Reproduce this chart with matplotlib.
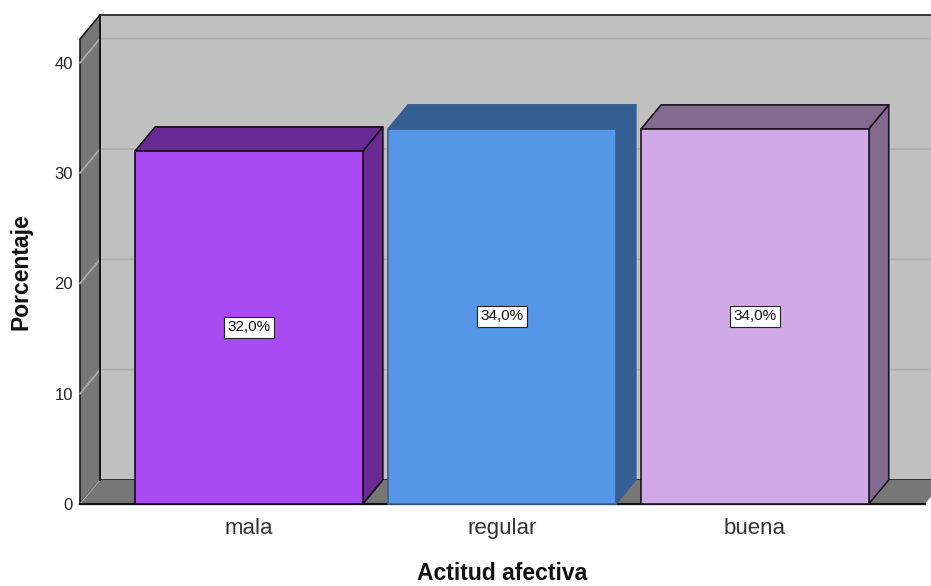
import matplotlib
matplotlib.use("Agg")
import matplotlib.pyplot as plt
from matplotlib.patches import Polygon

plt.rcParams['font.family'] = ['Liberation Sans', 'DejaVu Sans']

categories = ["mala", "regular", "buena"]
values = [32.0, 34.0, 34.0]
labels = ["32,0%", "34,0%", "34,0%"]
front_colors = ["#a94bf2", "#5596e6", "#d0aae6"]
dark_colors = ["#6a2a93", "#355f92", "#826b8e"]
edge_colors = ["#14081c", "#355f92", "#1c1420"]
y_ticks = [0, 10, 20, 30, 40]

bar_width = 0.9
y_top = 42.15
x_left, x_right = -0.668, 2.696
floor_right = 2.672
# offset of the back plane from the front plane, in data units
dx, dy = 0.079, 2.18

fig = plt.figure(figsize=(9.31, 5.86), dpi=100)
ax = fig.add_axes([80/931, (586-504)/586, (931-80)/931, (504-39)/586])
ax.set_xlim(x_left, x_right)
ax.set_ylim(0, y_top)


def poly(points, color, edge="none", lw=1.2, z=1):
    ax.add_patch(Polygon(points, closed=True, facecolor=color, edgecolor=edge,
                         linewidth=lw, clip_on=False, zorder=z, joinstyle="round"))


# back wall, side wall and floor
poly([(x_left+dx, dy), (floor_right+dx, dy), (floor_right+dx, y_top+dy), (x_left+dx, y_top+dy)], "#c0c0c0", "#1a1a1a")
poly([(x_left, 0), (x_left+dx, dy), (x_left+dx, y_top+dy), (x_left, y_top)], "#777777", "#1a1a1a")
poly([(x_left, 0), (floor_right, 0), (floor_right+dx, dy), (x_left+dx, dy)], "#777777")

# grid lines run along the side wall and across the back wall
for v in y_ticks[1:]:
    ax.plot([x_left, x_left+dx, floor_right+dx], [v, v+dy, v+dy], color="#adadad", lw=1.2,
            clip_on=False, zorder=2)
ax.plot([x_left, x_left+dx], [0, dy], color="#a0a0a0", lw=1, zorder=2, clip_on=False)
ax.plot([x_left+dx, x_left+dx], [dy, y_top+dy], color="#1a1a1a", lw=1.4, zorder=2, clip_on=False)
ax.plot([x_left, floor_right], [0, 0], color="#111111", lw=1.6, zorder=3, clip_on=False)

for i, v in enumerate(values):
    l, r = i - bar_width/2, i + bar_width/2
    edge = edge_colors[i]
    poly([(r, 0), (r+dx, dy), (r+dx, v+dy), (r, v)], dark_colors[i], edge, z=4)
    poly([(l, v), (r, v), (r+dx, v+dy), (l+dx, v+dy)], dark_colors[i], edge, z=4)
    poly([(l, 0), (r, 0), (r, v), (l, v)], front_colors[i], edge, z=5)
    ax.text(i, v/2, labels[i], ha="center", va="center", fontsize=11, color="#111111", zorder=6,
            bbox=dict(boxstyle="square,pad=0.2", facecolor="white", edgecolor="#222222", linewidth=0.8))

for side in ax.spines.values():
    side.set_visible(False)
ax.patch.set_visible(False)

ax.set_yticks(y_ticks)
ax.set_xticks(range(len(categories)))
ax.set_xticklabels(categories, fontsize=16, color="#333333")
ax.tick_params(axis="x", length=0, pad=10)
ax.tick_params(axis="y", length=0, pad=5, labelsize=12, labelcolor="#222222")

fig.text(21/931, 1 - 272/586, "Porcentaje", rotation=90, ha="center", va="center",
         fontsize=16.5, fontweight="bold", color="#111111")
fig.text(502/931, 1 - 574/586, "Actitud afectiva", ha="center", va="center",
         fontsize=16.5, fontweight="bold", color="#111111")

fig.savefig("out.png", dpi=100)
